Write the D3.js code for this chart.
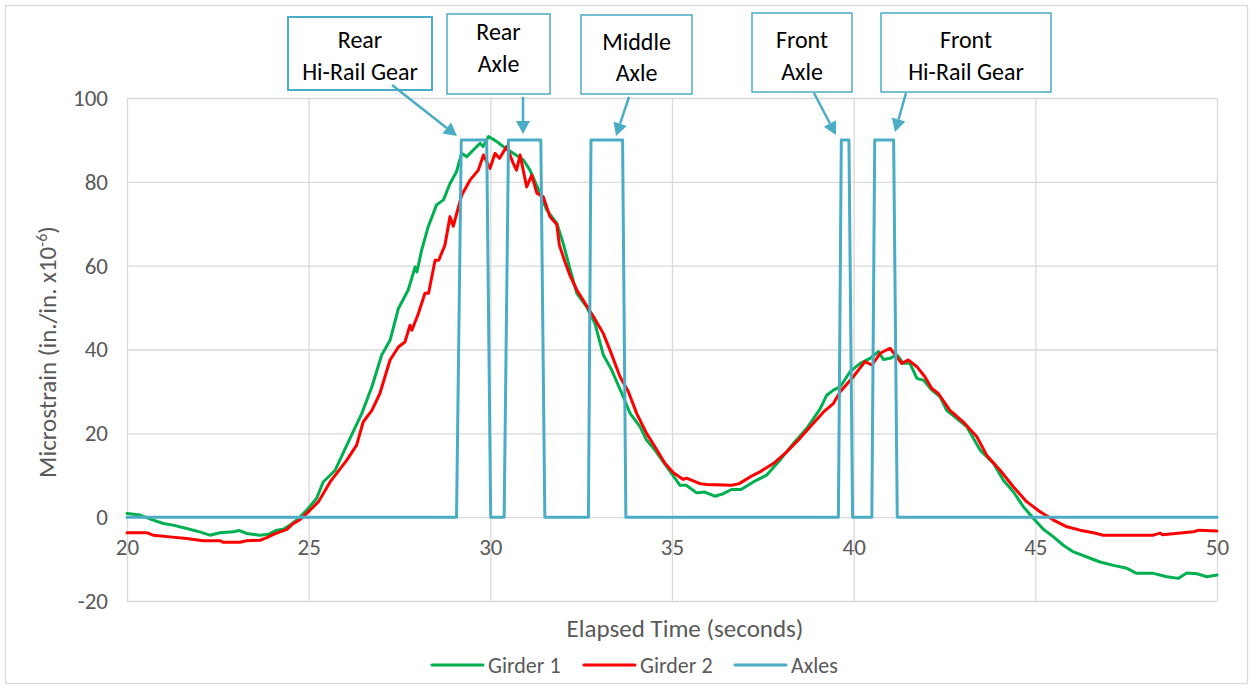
<!DOCTYPE html>
<html><head><meta charset="utf-8">
<script src="https://cdn.jsdelivr.net/npm/d3@7"></script>
<style>
html,body{margin:0;padding:0;background:#fff;}
text{font-family:Carlito,Lato,"Open Sans",sans-serif;}
</style></head>
<body>
<svg id="chart" width="1253" height="689"></svg>
<script>
// ---------- DATA ----------
const xTicks = [20, 25, 30, 35, 40, 45, 50];
const yTicks = [-20, 0, 20, 40, 60, 80, 100];
const seriesNames = ["Girder 1", "Girder 2", "Axles"];

const girder1Time = [20.0,20.36,20.72,21.0,21.27,21.64,22.0,22.28,22.56,22.93,23.1,23.3,23.66,23.89,24.12,24.3,24.49,24.72,24.95,25.22,25.4,25.73,26.05,26.46,26.74,27.01,27.24,27.47,27.74,27.93,27.98,28.11,28.29,28.52,28.71,28.89,29.07,29.21,29.35,29.58,29.72,29.8,29.95,30.18,30.36,30.63,30.91,31.09,31.37,31.55,31.83,32.0,32.2,32.38,32.65,32.88,33.11,33.34,33.62,33.85,34.12,34.3,34.53,34.76,34.99,35.22,35.39,35.68,35.9,36.18,36.41,36.64,36.9,37.24,37.6,37.97,38.34,38.71,39.08,39.26,39.44,39.63,39.72,39.9,40.18,40.45,40.68,40.82,41.0,41.19,41.37,41.55,41.74,41.92,42.15,42.38,42.56,42.84,43.11,43.48,43.85,44.12,44.4,44.67,44.95,45.22,45.5,45.77,46.05,46.42,46.78,47.15,47.52,47.79,48.25,48.62,48.94,49.17,49.45,49.72,50.0];
const girder1Value = [0.9,0.5,-0.7,-1.5,-1.9,-2.7,-3.5,-4.3,-3.7,-3.5,-3.2,-3.9,-4.3,-4.1,-3.1,-2.9,-1.9,-0.3,1.7,4.5,8.4,11.2,17.2,24.7,31.1,38.7,42.2,49.8,54.2,59.7,58.5,63.7,69.3,74.5,75.7,79.6,82.4,86.8,86.0,88.0,89.2,88.4,90.8,89.6,88.4,86.8,85.2,82.8,77.3,73.3,70.1,65.5,59.0,53.4,50.2,46.2,38.7,35.1,29.5,24.7,21.6,18.4,16.0,13.2,10.4,7.6,7.6,5.8,6.0,5.0,5.6,6.6,6.6,8.4,10.0,13.6,17.6,21.2,25.9,29.1,30.3,31.1,32.3,34.7,36.7,37.9,39.5,37.6,37.9,38.7,36.7,36.7,33.1,32.7,30.3,28.7,25.5,23.5,21.6,16.0,12.8,8.8,6.0,2.5,-0.3,-2.9,-4.7,-6.7,-8.3,-9.5,-10.7,-11.5,-12.2,-13.4,-13.4,-14.2,-14.6,-13.3,-13.5,-14.2,-13.8];

const girder2Time = [20.0,20.54,20.72,21.18,21.64,22.1,22.56,22.65,23.11,23.3,23.66,23.85,24.03,24.21,24.4,24.58,24.76,25.04,25.27,25.59,26.05,26.32,26.5,26.74,26.96,27.24,27.47,27.65,27.79,27.84,28.02,28.2,28.3,28.48,28.58,28.75,28.89,28.98,29.21,29.44,29.67,29.81,29.99,30.13,30.25,30.45,30.63,30.72,30.82,31.0,31.14,31.28,31.46,31.64,31.83,31.9,32.05,32.2,32.38,32.84,33.11,33.29,33.57,33.8,34.03,34.3,34.53,34.81,35.04,35.31,35.4,35.77,35.95,36.64,36.85,37.15,37.42,37.79,38.16,38.52,38.89,39.17,39.44,39.63,39.99,40.31,40.5,40.73,41.0,41.15,41.32,41.5,41.74,41.96,42.15,42.33,42.65,43.02,43.39,43.66,44.03,44.4,44.76,45.13,45.5,45.87,46.23,46.6,46.87,48.25,48.43,48.5,49.35,49.5,50.0];
const girder2Value = [-3.7,-3.7,-4.3,-4.7,-5.1,-5.6,-5.6,-6.0,-6.0,-5.6,-5.5,-4.9,-4.1,-3.5,-2.9,-1.5,-0.6,1.7,3.7,8.4,13.6,17.2,22.7,25.5,29.5,37.5,40.6,41.8,45.8,44.6,48.6,53.4,53.4,61.3,61.3,64.9,71.7,69.4,76.8,80.4,82.8,86.4,83.2,86.8,85.6,88.4,84.4,82.8,86.4,78.8,81.6,77.3,76.4,71.7,69.8,64.9,61.0,57.5,54.2,47.8,43.8,39.9,33.5,29.9,24.7,20.0,16.8,12.8,10.6,9.0,9.3,8.0,7.8,7.6,8.0,9.6,10.8,12.8,15.6,18.8,22.4,25.1,27.1,29.9,33.5,37.1,36.3,39.1,40.3,38.7,36.7,37.5,35.9,33.5,30.7,29.5,25.5,22.7,19.2,14.8,11.2,7.2,3.7,1.3,-0.7,-2.3,-3.1,-3.7,-4.3,-4.3,-3.8,-4.2,-3.5,-3.1,-3.3];

const axlesTime  = [20.0,29.07,29.2,29.9,30.01,30.38,30.5,31.39,31.5,32.7,32.77,33.64,33.73,39.58,39.66,39.87,39.97,40.5,40.58,41.1,41.2,50.0];
const axlesValue = [0,0,90,90,0,0,90,90,0,0,90,90,0,0,90,90,0,0,90,90,0,0];

const calloutLines = [["Rear","Hi-Rail Gear"],["Rear","Axle"],["Middle","Axle"],["Front","Axle"],["Front","Hi-Rail Gear"]];

const yTitle = "Microstrain (in./in. x10";
const yTitleSup = "-6";
const xTitle = "Elapsed Time (seconds)";

// ---------- LAYOUT ----------
const colors = {"Girder 1":"#00B050","Girder 2":"#FF0000","Axles":"#4BACC6"};
const textColor = "#595959";
const gridColor = "#D9D9D9";

const svg = d3.select("#chart");
const x = d3.scaleLinear().domain([20,50]).range([127,1217]);
const y = d3.scaleLinear().domain([-20,100]).range([601,98]);

// outer border
svg.append("rect").attr("x",5.5).attr("y",5.5).attr("width",1242).attr("height",678)
  .attr("fill","#fff").attr("stroke",gridColor).attr("stroke-width",1.3);

// gridlines
const gy = svg.append("g").attr("transform",`translate(${x.range()[0]},0)`)
  .call(d3.axisLeft(y).tickValues(yTicks).tickSize(-(x.range()[1]-x.range()[0])).tickFormat(""));
gy.select(".domain").remove();
gy.selectAll("line").attr("stroke",gridColor).attr("stroke-width",1.3);

const gx = svg.append("g").attr("transform",`translate(0,${y.range()[0]})`)
  .call(d3.axisBottom(x).tickValues(xTicks).tickSize(-(y.range()[0]-y.range()[1])).tickFormat(""));
gx.select(".domain").remove();
gx.selectAll("line").attr("stroke",gridColor).attr("stroke-width",1.3);

// y tick labels
const yl = svg.append("g").attr("transform",`translate(${x.range()[0]},0)`)
  .call(d3.axisLeft(y).tickValues(yTicks).tickSize(0).tickPadding(19).tickFormat(d=>String(d)));
yl.select(".domain").remove();
yl.selectAll("text").attr("fill",textColor).style("font-size","23px");

// x tick labels, on the zero line
const xl = svg.append("g").attr("transform",`translate(0,${y(0)})`)
  .call(d3.axisBottom(x).tickValues(xTicks).tickSize(0).tickPadding(22).tickFormat(d=>String(d)));
xl.select(".domain").remove();
xl.selectAll("text").attr("fill",textColor).style("font-size","23px");

// series
const line = d3.line().x(d=>x(d[0])).y(d=>y(d[1]));
const series = [
  {name:"Girder 1", t:girder1Time, v:girder1Value},
  {name:"Girder 2", t:girder2Time, v:girder2Value},
  {name:"Axles", t:axlesTime, v:axlesValue}
];
series.forEach(s=>{
  svg.append("path").datum(d3.zip(s.t,s.v)).attr("d",line)
    .attr("fill","none").attr("stroke",colors[s.name]).attr("stroke-width",3)
    .attr("stroke-linejoin","round").attr("stroke-linecap","round");
});

// axis titles
const yt = svg.append("text").attr("transform","translate(56,352) rotate(-90)")
  .attr("text-anchor","middle").attr("fill",textColor).style("font-size","25px");
yt.append("tspan").text(yTitle);
yt.append("tspan").attr("dy",-9).style("font-size","16px").text(yTitleSup);
yt.append("tspan").attr("dy",9).text(")");

svg.append("text").attr("x",685).attr("y",637).attr("text-anchor","middle")
  .attr("fill",textColor).style("font-size","25px").text(xTitle);

// legend
const legendX = [432, 584, 735];
series.forEach((s,i)=>{
  const g = svg.append("g").attr("transform",`translate(${legendX[i]},665)`);
  g.append("line").attr("x1",0).attr("x2",51).attr("y1",0).attr("y2",0)
    .attr("stroke",colors[s.name]).attr("stroke-width",3).attr("stroke-linecap","round");
  g.append("text").attr("x",56).attr("y",0).attr("dy","0.36em").attr("fill",textColor)
    .style("font-size","22px").text(s.name);
});

// callouts
const boxes = [
  {x0:288,y0:17,x1:432,y1:90, ty:[40,72], from:[392,85], to:[457,136]},
  {x0:447,y0:14,x1:550,y1:94, ty:[32,64], from:[523,97], to:[523,134]},
  {x0:581,y0:15,x1:692,y1:94, ty:[42,73], from:[629,97], to:[616,136]},
  {x0:752,y0:13,x1:852,y1:92, ty:[40,72], from:[814,93], to:[836,135]},
  {x0:881,y0:13,x1:1051,y1:92, ty:[40,72], from:[906,93], to:[895,132]}
];
const boxColor = "#4BACC6";
boxes.forEach((b,i)=>{
  svg.append("rect").attr("x",b.x0).attr("y",b.y0).attr("width",b.x1-b.x0).attr("height",b.y1-b.y0)
    .attr("fill","#fff").attr("stroke",boxColor).attr("stroke-width",i===0?2:1.5);
  calloutLines[i].forEach((t,j)=>{
    svg.append("text").attr("x",(b.x0+b.x1)/2).attr("y",b.ty[j]).attr("dy","0.35em")
      .attr("text-anchor","middle").attr("fill","#000").style("font-size","24px").text(t);
  });
  // arrow
  const dx=b.to[0]-b.from[0], dy=b.to[1]-b.from[1], L=Math.hypot(dx,dy);
  const ux=dx/L, uy=dy/L, hl=13, hw=7;
  const bx=b.to[0]-ux*hl, by=b.to[1]-uy*hl;
  svg.append("line").attr("x1",b.from[0]).attr("y1",b.from[1]).attr("x2",bx).attr("y2",by)
    .attr("stroke",boxColor).attr("stroke-width",2.5);
  svg.append("path").attr("d",`M${b.to[0]},${b.to[1]}L${bx-uy*hw},${by+ux*hw}L${bx+uy*hw},${by-ux*hw}Z`)
    .attr("fill",boxColor);
});
</script>
</body></html>
